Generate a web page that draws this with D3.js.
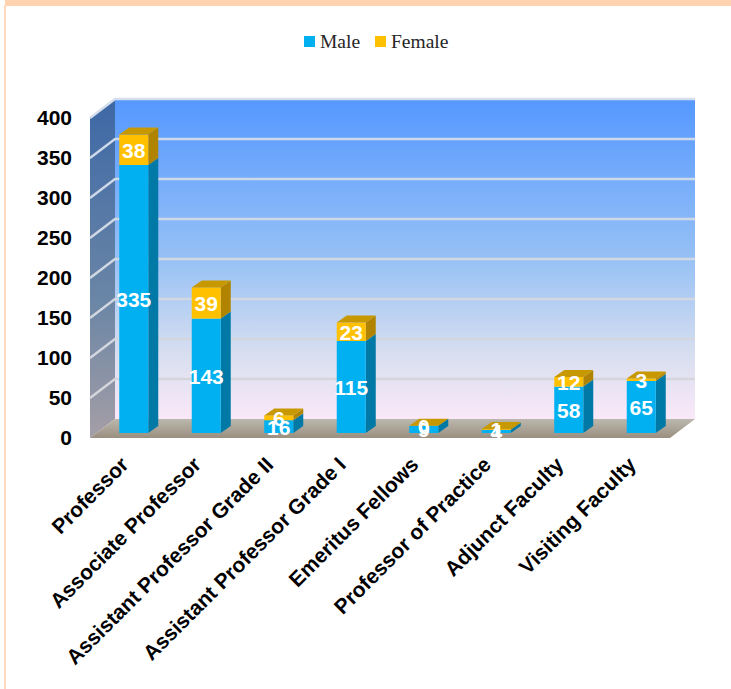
<!DOCTYPE html>
<html><head><meta charset="utf-8">
<script src="https://cdn.jsdelivr.net/npm/d3@7/dist/d3.min.js"></script>
<style>html,body{margin:0;padding:0;background:#fff}svg{display:block}</style>
</head><body><svg id="c" width="731" height="689"></svg>
<script>
const categories = ["Professor","Associate Professor","Assistant Professor Grade II","Assistant Professor Grade I","Emeritus Fellows","Professor of Practice","Adjunct Faculty","Visiting Faculty"];
const male = [335,143,16,115,9,4,58,65];
const female = [38,39,6,23,0,1,12,3];
const yTicks = [0,50,100,150,200,250,300,350,400];
const seriesNames = ["Male","Female"];
const seriesColors = ["#00b0f0","#ffc000"];
const sideColors = ["#0079a6","#b08400"];
const topColors = ["#0088b8","#c89800"];

const svg = d3.select("#c");
const defs = svg.append("defs");
function grad(id, stops){
  const g = defs.append("linearGradient").attr("id",id).attr("x1",0).attr("y1",0).attr("x2",0).attr("y2",1);
  stops.forEach(s=>g.append("stop").attr("offset",s[0]).attr("stop-color",s[1]));
}
grad("back",[[0,"#5598ff"],[0.5,"#97c1f5"],[0.8,"#d8dff0"],[1,"#fae8f8"]]);
grad("side",[[0,"#3d68a6"],[0.6,"#6b86a6"],[1,"#a59ea6"]]);
grad("floor",[[0,"#bcb8ae"],[1,"#9a8f80"]]);

svg.append("rect").attr("x",5).attr("y",0).attr("width",726).attr("height",6).attr("fill","#ffd2b0");
svg.append("rect").attr("x",4).attr("y",5).attr("width",2).attr("height",684).attr("fill","#ffd8bd");

const left=90, right=670, y0=438, y400=118, dx=25, dy=19;
const y = d3.scaleLinear().domain([0,400]).range([y0,y400]);
const x = d3.scaleBand().domain(categories).range([left,right]).paddingInner(0).paddingOuter(0);
const poly = pts => pts.map(p=>p.join(",")).join(" ");

svg.append("rect").attr("x",left+dx).attr("y",y(400)-dy).attr("width",right-left).attr("height",y(0)-y(400)).attr("fill","url(#back)");
svg.append("polygon").attr("points",poly([[left,y(400)],[left+dx,y(400)-dy],[left+dx,y(0)-dy],[left,y(0)]])).attr("fill","url(#side)");
svg.append("polygon").attr("points",poly([[left,y(0)],[left+dx,y(0)-dy],[right+dx,y(0)-dy],[right,y(0)]])).attr("fill","url(#floor)");

const grid = svg.append("g").attr("fill","none").attr("stroke-width",2.4);
yTicks.filter(t=>t>0).forEach(t=>{
  const c = t===400 ? "#d5deec" : d3.interpolateRgb("#d6d6da","#ccd9ea")(t/350);
  grid.append("polyline").attr("points",poly([[left,y(t)],[left+dx,y(t)-dy],[right+dx,y(t)-dy]])).attr("stroke",c);
});

const barW=29, ddx=10, ddy=7, shiftX=7.5, base=-5;
const stacked = d3.stack().keys([0,1]).value((d,k)=>d[k])(male.map((m,i)=>[m,female[i]]));
const h = v => y(0)-y(v);
const bars = svg.append("g");
categories.forEach((cat,i)=>{
  const xl = x(cat)+x.bandwidth()/2+shiftX-barW/2;
  stacked.forEach((s,k)=>{
    const [a,b]=s[i];
    if(b===a) return;
    const yb=y(0)+base-h(a), yt=y(0)+base-h(b);
    bars.append("polygon").attr("points",poly([[xl+barW,yb],[xl+barW+ddx,yb-ddy],[xl+barW+ddx,yt-ddy],[xl+barW,yt]])).attr("fill",sideColors[k]);
    bars.append("rect").attr("x",xl).attr("y",yt).attr("width",barW).attr("height",yb-yt).attr("fill",seriesColors[k]);
  });
  const topV = male[i]+female[i], yt=y(0)+base-h(topV);
  bars.append("polygon").attr("points",poly([[xl,yt],[xl+ddx,yt-ddy],[xl+barW+ddx,yt-ddy],[xl+barW,yt]])).attr("fill",topColors[1]);
});

const lab = svg.append("g").attr("font-family","'Liberation Sans',Arial,sans-serif").attr("font-weight","bold").attr("font-size",21).attr("fill","#fff").attr("text-anchor","middle");
categories.forEach((cat,i)=>{
  const cx = x(cat)+x.bandwidth()/2+shiftX;
  stacked.forEach((s,k)=>{
    const [a,b]=s[i];
    lab.append("text").attr("x",cx).attr("y",y(0)+base-h((a+b)/2)+8).text(k===0?male[i]:female[i]);
  });
});

const ya = svg.append("g").attr("transform",`translate(${left},0)`).call(d3.axisLeft(y).tickValues(yTicks).tickSize(0).tickPadding(18));
ya.select(".domain").remove();
ya.selectAll("text").attr("font-family","'Liberation Sans',Arial,sans-serif").attr("font-weight","bold").attr("font-size",21).attr("fill","#000");
const xa = svg.append("g").attr("transform",`translate(${shiftX},${y0})`).call(d3.axisBottom(x).tickSize(0));
xa.select(".domain").remove();
xa.selectAll("text").attr("font-family","'Liberation Sans',Arial,sans-serif").attr("font-weight","bold").attr("font-size",21).attr("fill","#000")
  .attr("text-anchor","end").attr("dy",0).attr("y",0).attr("transform","translate(-4,28) rotate(-45)");

const leg = svg.append("g");
const legX=[304,375], legT=[320,391];
seriesNames.forEach((n,i)=>{
  leg.append("rect").attr("x",legX[i]).attr("y",36).attr("width",11).attr("height",11).attr("fill",seriesColors[i]);
  leg.append("text").attr("x",legT[i]).attr("y",48).attr("font-family","'Liberation Serif',serif").attr("font-size",19.5).attr("fill","#262626").text(n);
});
</script></body></html>
